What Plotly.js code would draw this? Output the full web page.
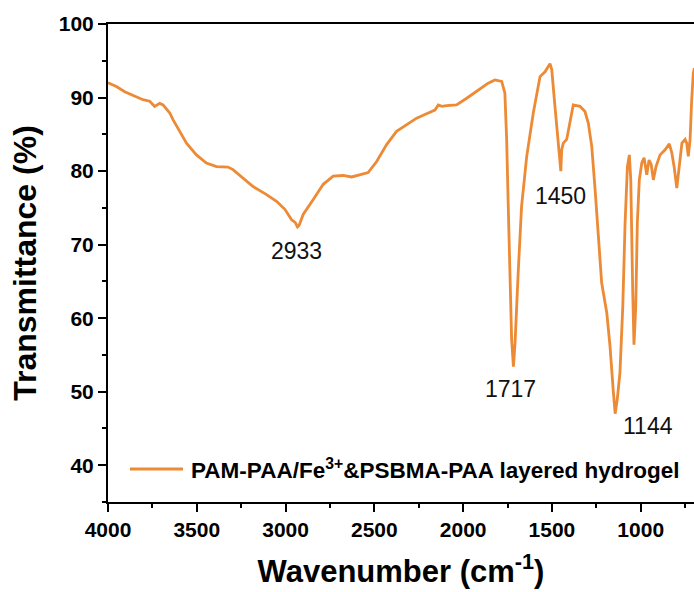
<!DOCTYPE html>
<html>
<head>
<meta charset="utf-8">
<script src="https://cdn.plot.ly/plotly-3.0.1.min.js"></script>
<style>
  html, body { margin: 0; padding: 0; background: #ffffff; }
  #chart { width: 694px; height: 592px; }
</style>
</head>
<body>
<div id="chart"></div>
<script>
// ---- Data ----
const seriesName = 'PAM-PAA/Fe<sup>3+</sup>&amp;PSBMA-PAA layered hydrogel';

const wavenumber = [
  4000, 3953, 3906, 3878, 3850, 3803, 3765, 3737, 3709, 3690, 3652, 3634, 3596, 3558,
  3502, 3446, 3389, 3324, 3296, 3239, 3183, 3107, 3051, 3004, 2967, 2945, 2933, 2924,
  2901, 2845, 2788, 2732, 2676, 2628, 2582, 2535, 2487, 2431, 2375, 2318, 2262, 2206,
  2159, 2140, 2120, 2093, 2037, 1980, 1924, 1859, 1821, 1800, 1783, 1765, 1755, 1746,
  1736, 1727, 1717, 1708, 1690, 1671, 1642, 1605, 1567, 1539, 1511, 1501, 1483, 1464,
  1450, 1445, 1436, 1417, 1398, 1380, 1342, 1314, 1295, 1276, 1257, 1239, 1220, 1191,
  1173, 1154, 1144, 1132, 1117, 1101, 1088, 1075, 1064, 1056, 1051, 1045, 1038, 1028,
  1019, 1008, 994, 981, 966, 953, 941, 929, 914, 891, 863, 839, 825, 812,
  797, 784, 768, 750, 741, 732, 722, 713, 704, 698
];

const transmittance = [
  92.0, 91.5, 90.8, 90.5, 90.1, 89.7, 89.5, 88.8, 89.2, 89.0, 87.9, 87.0, 85.4, 83.8,
  82.2, 81.1, 80.6, 80.55, 80.2, 79.1, 77.9, 76.8, 75.9, 74.8, 73.4, 73.0, 72.4, 72.6,
  74.1, 76.1, 78.2, 79.3, 79.4, 79.2, 79.5, 79.8, 81.3, 83.6, 85.4, 86.3, 87.2, 87.8,
  88.3, 89.0, 88.8, 88.9, 89.0, 89.9, 90.8, 91.95, 92.4, 92.3, 92.2, 90.6, 84.3, 75.2,
  66.2, 57.1, 53.4, 56.5, 66.2, 75.2, 82.0, 87.9, 92.85, 93.5, 94.6, 93.8, 88.8, 84.3,
  80.0, 82.9, 83.8, 84.3, 86.5, 89.0, 88.8, 88.1, 86.5, 83.4, 77.5, 70.7, 64.8, 60.7,
  56.2, 49.9, 47.0, 49.0, 52.6, 61.6, 73.0, 80.6, 82.2, 78.8, 68.4, 63.5, 56.4, 61.6,
  73.0, 78.8, 81.1, 81.8, 79.5, 81.5, 80.9, 78.8, 80.6, 82.2, 82.9, 83.7, 82.5, 80.6,
  77.7, 80.6, 83.8, 84.3, 83.8, 82.0, 84.3, 89.7, 93.3, 94.0
];

const peakLabels = ['2933', '1450', '1717', '1144'];

const xTickVals = [4000, 3500, 3000, 2500, 2000, 1500, 1000];
const yTickVals = [40, 50, 60, 70, 80, 90, 100];

// ---- Styling ----
const FONT = 'Liberation Sans, Arial, Helvetica, sans-serif';
const LINE_COLOR = '#EC8A35';

// label anchor positions (data coords), placed near their peaks
const peakLabelPos = [
  {x: 2937, y: 69.2},
  {x: 1451, y: 76.6},
  {x: 1732, y: 50.3},
  {x: 957,  y: 45.4}
];

const trace = {
  x: wavenumber,
  y: transmittance,
  type: 'scatter',
  mode: 'lines',
  name: seriesName,
  line: {color: LINE_COLOR, width: 2.8, shape: 'linear'},
  showlegend: false,
  hoverinfo: 'x+y'
};

const annotations = peakLabels.map((t, i) => ({
  x: peakLabelPos[i].x, y: peakLabelPos[i].y, xref: 'x', yref: 'y',
  text: t, showarrow: false,
  font: {family: FONT, size: 23, color: '#111'},
  xanchor: 'center', yanchor: 'middle'
}));

// legend text (custom, to reproduce the long line sample)
annotations.push({
  x: (189 - 108) / 586, y: (502 - 469) / 478, xref: 'paper', yref: 'paper',
  text: seriesName, showarrow: false,
  font: {family: FONT, size: 22.5, color: '#000', weight: 'bold'},
  xanchor: 'left', yanchor: 'middle'
});

const layout = {
  width: 694,
  height: 592,
  margin: {l: 108, r: 0, t: 24, b: 90, pad: 0},
  paper_bgcolor: '#ffffff',
  plot_bgcolor: '#ffffff',
  font: {family: FONT, color: '#000'},
  xaxis: {
    range: [4000, 700],
    tickvals: xTickVals,
    ticktext: xTickVals.map(String),
    ticks: 'outside',
    ticklen: 8,
    tickwidth: 2,
    tickcolor: '#000',
    minor: {dtick: 250, tick0: 0, ticks: 'outside', ticklen: 4, tickwidth: 2, tickcolor: '#000'},
    showline: true,
    linecolor: '#000',
    linewidth: 2,
    mirror: true,
    showgrid: false,
    zeroline: false,
    tickfont: {family: FONT, size: 21, color: '#000', weight: 'bold'},
    title: {
      text: 'Wavenumber (cm<sup>-1</sup>)',
      font: {family: FONT, size: 31, color: '#000', weight: 'bold'},
      standoff: 20
    }
  },
  yaxis: {
    range: [35, 100],
    tickvals: yTickVals,
    ticktext: yTickVals.map(String),
    ticks: 'outside',
    ticklen: 8,
    tickwidth: 2,
    tickcolor: '#000',
    minor: {dtick: 5, tick0: 0, ticks: 'outside', ticklen: 4, tickwidth: 2, tickcolor: '#000'},
    showline: true,
    linecolor: '#000',
    linewidth: 2,
    mirror: false,
    showgrid: false,
    zeroline: false,
    tickfont: {family: FONT, size: 21, color: '#000', weight: 'bold'},
    title: {
      text: 'Transmittance (%)',
      font: {family: FONT, size: 32, color: '#000', weight: 'bold'},
      standoff: 13
    }
  },
  shapes: [{
    type: 'line', xref: 'paper', yref: 'paper',
    x0: (130 - 108) / 586, x1: (183 - 108) / 586,
    y0: (502 - 469) / 478, y1: (502 - 469) / 478,
    line: {color: LINE_COLOR, width: 3}
  }],
  annotations: annotations,
  showlegend: false
};

Plotly.newPlot('chart', [trace], layout, {staticPlot: true, displayModeBar: false});
</script>
</body>
</html>
